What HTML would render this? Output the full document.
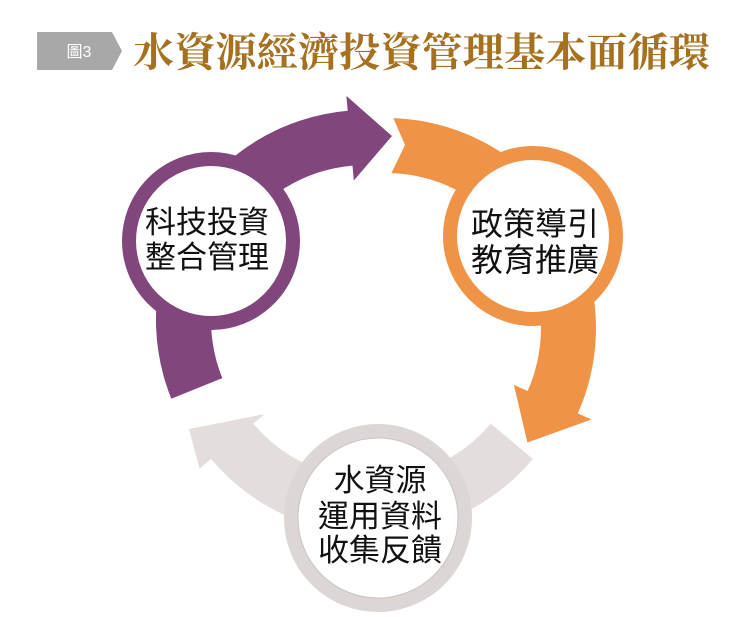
<!DOCTYPE html>
<html><head><meta charset="utf-8"><style>
body{margin:0;background:#fff;}
svg{display:block;}
</style></head><body>
<svg width="738" height="617" viewBox="0 0 738 617" xmlns="http://www.w3.org/2000/svg">
<polygon points="37,32 112,32 122,51 112,70 37,70" fill="#a8a8a8"/>
<text x="79" y="57" font-family="Liberation Sans, Noto Sans CJK TC, sans-serif" font-size="16" fill="#fff" text-anchor="middle">圖3</text>
<text x="133" y="66" font-family="Liberation Serif, Noto Serif CJK SC, serif" font-weight="bold" font-size="40" fill="#a6711f" textLength="577" lengthAdjust="spacingAndGlyphs">水資源經濟投資管理基本面循環</text>
<path d="M526.9,455.0 A210,210 0 0 1 205.1,455.0 L193.6,464.6 L183,425 L258.8,410.0 L247.3,419.6 A155,155 0 0 0 484.7,419.6 Z" fill="#e3dddb" transform="translate(6,4)"/>
<path d="M373.3,110.1 L385,137 L371.4,165.1 A155,155 0 0 1 507.6,383.0 L493.9,376.9 L507.4,434.5 L571.5,411.5 L557.8,405.4 A210,210 0 0 0 373.3,110.1 Z" fill="#ef9446" transform="translate(20,8)"/>
<path d="M171.3,398.7 A210,210 0 0 1 347.7,110.8 L346.4,95.9 L392,136 L353.8,180.5 L352.5,165.6 A155,155 0 0 0 222.3,378.1 Z" fill="#81467c"/>
<circle cx="211" cy="241" r="82" fill="#fff" stroke="#81467c" stroke-width="14"/>
<circle cx="533" cy="236" r="83" fill="#fff" stroke="#ef9446" stroke-width="14"/>
<circle cx="378" cy="518" r="87" fill="#fff" stroke="#dcd6d4" stroke-width="14"/>
<circle cx="378" cy="518" r="80" fill="none" stroke="#c9c3c1" stroke-width="1"/>
<g font-family="Liberation Sans, Noto Sans CJK TC, sans-serif" font-size="31" fill="#111" text-anchor="middle">
<text x="207" y="233">科技投資</text>
<text x="207" y="268">整合管理</text>
<text x="535" y="235" font-size="32">政策導引</text>
<text x="535" y="271" font-size="32">教育推廣</text>
<text x="380" y="491">水資源</text>
<text x="380" y="527">運用資料</text>
<text x="380" y="561">收集反饋</text>
</g>
</svg>
</body></html>
